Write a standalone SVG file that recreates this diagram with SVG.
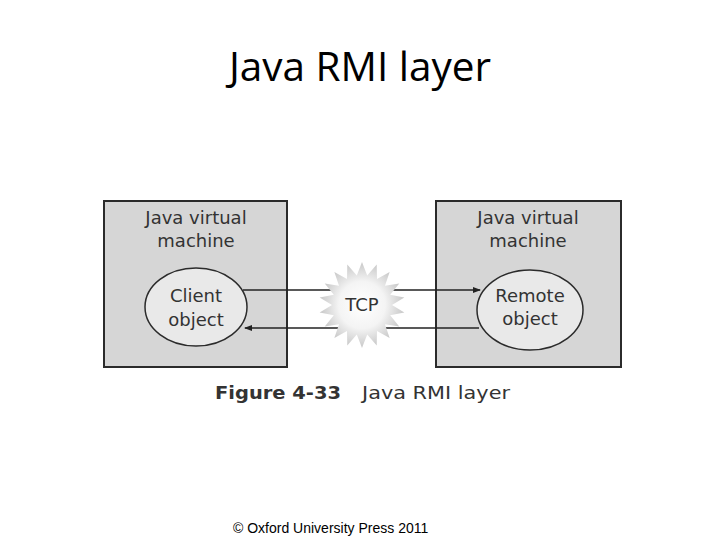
<svg xmlns="http://www.w3.org/2000/svg" width="720" height="540" viewBox="0 0 720 540">
<style>
.box{fill:#d6d6d6;stroke:#2b2b2b;stroke-width:2}
.obj{fill:#e9e9e9;stroke:#2b2b2b;stroke-width:1.5}
.lbl{font-family:"DejaVu Sans",Verdana,sans-serif;font-size:18px;fill:#333;text-anchor:middle}
.conn{stroke:#222;stroke-width:1.5;fill:none}
</style>
<defs>
<marker id="ah" markerWidth="8" markerHeight="6" refX="7" refY="3" orient="auto" markerUnits="userSpaceOnUse">
<path d="M0,0 L8,3 L0,6 Z" fill="#222"/>
</marker>
<radialGradient id="burst" cx="0.5" cy="0.5" r="0.5">
<stop offset="0" stop-color="#ffffff"/>
<stop offset="0.55" stop-color="#f4f4f4"/>
<stop offset="1" stop-color="#c8c8c8"/>
</radialGradient>
</defs>
<rect width="720" height="540" fill="#fff"/>
<text x="360" y="81" font-family="'Open Sans','Liberation Sans',sans-serif" font-size="40.5" text-anchor="middle" fill="#000">Java RMI layer</text>

<g id="left-jvm">
<rect class="box" x="104" y="201" width="183" height="166"/>
<text class="lbl" x="196" y="224">Java virtual</text>
<text class="lbl" x="196" y="247">machine</text>
</g>
<g id="client-object">
<ellipse class="obj" cx="196" cy="307" rx="51" ry="39"/>
<text class="lbl" x="196" y="302">Client</text>
<text class="lbl" x="196" y="326">object</text>
</g>
<g id="right-jvm">
<rect class="box" x="436" y="201" width="185" height="166"/>
<text class="lbl" x="528" y="224">Java virtual</text>
<text class="lbl" x="528" y="247">machine</text>
</g>
<g id="remote-object">
<ellipse class="obj" cx="530" cy="310" rx="53" ry="40"/>
<text class="lbl" x="530" y="302">Remote</text>
<text class="lbl" x="530" y="325">object</text>
</g>

<g id="connectors">
<line class="conn" x1="243" y1="290" x2="480" y2="290" marker-end="url(#ah)"/>
<line class="conn" x1="479" y1="328" x2="245" y2="328" marker-end="url(#ah)"/>
</g>

<g id="tcp">
<polygon fill="url(#burst)" points="392,305 404.35,312.47 390.19,315.26 399.24,326.5 384.98,324.28 389.64,337.94 377,330.98 376.71,345.41 367.21,334.54 362,348 356.79,334.54 347.29,345.41 347,330.98 334.36,337.94 339.02,324.28 324.76,326.5 333.81,315.26 319.65,312.47 332,305 319.65,297.53 333.81,294.74 324.76,283.5 339.02,285.72 334.36,272.06 347,279.02 347.29,264.59 356.79,275.46 362,262 367.21,275.46 376.71,264.59 377,279.02 389.64,272.06 384.98,285.72 399.24,283.5 390.19,294.74 404.35,297.53"/>
<text class="lbl" x="362" y="311">TCP</text>
</g>

<text x="215" y="399" font-family="'DejaVu Sans',Verdana,sans-serif" font-size="18" font-weight="bold" fill="#333" textLength="126" lengthAdjust="spacingAndGlyphs">Figure 4-33</text>
<text x="362" y="399" font-family="'DejaVu Sans',Verdana,sans-serif" font-size="18" fill="#333" textLength="148" lengthAdjust="spacingAndGlyphs">Java RMI layer</text>

<text x="233" y="533" font-family="'Liberation Sans',Arial,sans-serif" font-size="14" fill="#000">© Oxford University Press 2011</text>
</svg>
